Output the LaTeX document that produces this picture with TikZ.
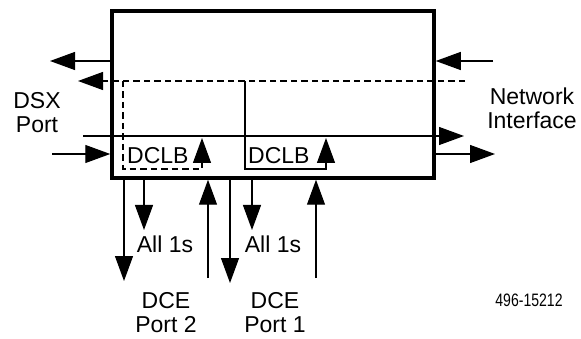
\documentclass[tikz,border=0pt]{standalone}
\usepackage{fontspec}
\setmainfont{Liberation Sans}
\usepackage{tikz}
\usetikzlibrary{positioning,arrows.meta,calc}
\tikzset{
  unitbox/.style={draw,line width=3.5pt,minimum width=322pt,minimum height=167pt},
  sig/.style={-{Triangle[length=25pt,width=18pt]},line width=1.2pt},
  dashsig/.style={sig,dash pattern=on 6.5pt off 4pt},
  lbl/.style={align=center,inner sep=0pt,font=\fontsize{23}{24}\selectfont},
  figno/.style={inner sep=0pt,font=\fontsize{18}{18}\selectfont},
}

\begin{document}
\begin{tikzpicture}[x=1pt,y=-1pt]
  \useasboundingbox (0,0) rectangle (581,339);
  \node[unitbox] (unit) at (273,94.5) {};

  % end points off the box
  \coordinate (dsxout) at (50,61);
  \coordinate (dsxin) at (52,154);
  \coordinate (dsxdash) at (78,81);
  \coordinate (thrustart) at (83,136);
  \coordinate (netin) at (493,61);
  \coordinate (netout) at (495,154);
  \coordinate (netdash) at (465,81);
  \coordinate (thruend) at (464,136);

  \draw[sig] (unit.west |- dsxout) -- (dsxout);
  \draw[sig] (dsxin) -- (unit.west |- dsxin);
  \draw[sig] (netin) -- (unit.east |- netin);
  \draw[sig] (unit.east |- netout) -- (netout);
  \draw[sig] (thrustart) -- (thruend);
  \draw[dashsig] (netdash) -- (dsxdash);

  % loopbacks
  \node[lbl,anchor=base west] (dclbtwo) at (127,164) {DCLB};
  \node[lbl,anchor=base west] (dclbone) at (248,164) {DCLB};
  \coordinate (looptwo) at (123,81);
  \coordinate (loopone) at (245,81);
  \draw[dashsig] (looptwo) -- (123,169) -- (202,169) -- (202,138);
  \draw[sig] (loopone) -- (245,169) -- (326,169) -- (326,138);

  % DCE ports
  \coordinate (txtwo) at (124,281);
  \coordinate (onestwo) at (144,230);
  \coordinate (rxtwo) at (208,278);
  \coordinate (txone) at (230,283);
  \coordinate (onesone) at (252,230);
  \coordinate (rxone) at (316,278);
  \draw[sig] (unit.south -| txtwo) -- (txtwo);
  \draw[sig] (unit.south -| onestwo) -- (onestwo);
  \draw[sig] (rxtwo) -- (unit.south -| rxtwo);
  \draw[sig] (unit.south -| txone) -- (txone);
  \draw[sig] (unit.south -| onesone) -- (onesone);
  \draw[sig] (rxone) -- (unit.south -| rxone);

  \node[lbl,anchor=base] (alltwo) at (165,253) {All 1s};
  \node[lbl,anchor=base] (allone) at (273,253) {All 1s};
  \node[lbl] (porttwo) at (166,313) {DCE\\Port 2};
  \node[lbl] (portone) at (275,313) {DCE\\Port 1};
  \node[lbl] (dsx) at (37,113) {DSX\\Port};
  \node[lbl] (net) at (532,108) {Network\\Interface};
  \node[figno] (fig) at (529,300) {\scalebox{0.78}[1]{496-15212}};
\end{tikzpicture}
\end{document}
